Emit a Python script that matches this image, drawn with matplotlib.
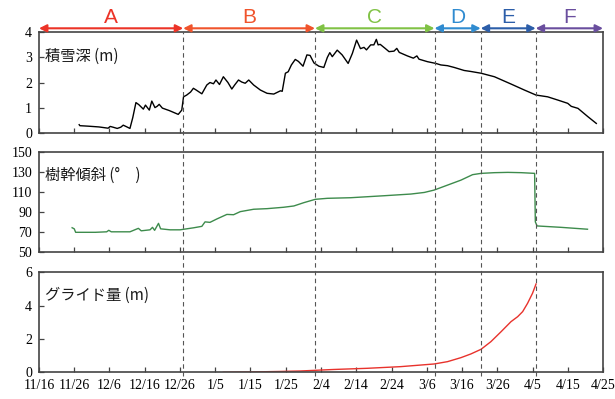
import matplotlib
matplotlib.use('Agg')
import matplotlib.pyplot as plt
import matplotlib.transforms as mtransforms
from matplotlib.lines import Line2D

# x axis: days since 11/16 (non-leap year)
tick_days = list(range(0, 161, 10))
tick_labels = ['11/16', '11/26', '12/6', '12/16', '12/26', '1/5', '1/15', '1/25',
               '2/4', '2/14', '2/24', '3/6', '3/16', '3/26', '4/5', '4/15', '4/25']

# period boundaries (days) and labels
period_bounds = [0, 40.9, 78.3, 112.2, 125.3, 140.9, 160]
period_labels = ['A', 'B', 'C', 'D', 'E', 'F']
period_colors = ['#ec3327', '#f0542c', '#80c245', '#2f8bd0', '#2c5ea9', '#6a4e9e']

# snow depth (m)
snow_day = [11.4, 11.6, 14, 17, 19.6, 20.2, 21, 22.2, 23.2, 23.9, 24.8, 25.8, 26.6, 27.5,
            28.3, 29.6, 30.2, 31.3, 32.0, 32.9, 33.5, 34.1, 35, 37, 39.5, 40.5, 41.0, 41.9,
            43.0, 43.8, 44.6, 46.2, 47.6, 48.5, 49.5, 50.2, 51.2, 52.3, 53.6, 54.7, 55.5,
            56.6, 57.5, 58.5, 59.5, 60.9, 62.8, 64.7, 66.6, 68.5, 69.0, 69.9, 70.7, 71.6,
            72.7, 73.6, 74.9, 76.0, 76.9, 78.0, 79.4, 80.8, 81.8, 82.5, 83.2, 84.6, 86,
            87.7, 88.9, 90.1, 91.2, 92.2, 92.9, 94.1, 95.0, 95.7, 96.2, 96.8, 98.2, 99.3,
            100.7, 101.5, 102.2, 104.5, 106.2, 107.2, 107.8, 110.2, 112.6, 114, 115.9,
            117.8, 120.6, 122.5, 125.4, 129.2, 133.9, 137.7, 141, 144.3, 147.2, 150, 151,
            152.9, 155.7, 158.1]
snow_depth = [0.32, 0.28, 0.26, 0.23, 0.18, 0.25, 0.22, 0.17, 0.22, 0.30, 0.24, 0.17, 0.6,
              1.2, 1.12, 0.94, 1.1, 0.9, 1.26, 1.0, 1.05, 1.13, 0.98, 0.88, 0.73, 0.9, 1.43,
              1.5, 1.62, 1.77, 1.7, 1.55, 1.9, 2.0, 1.95, 2.1, 1.92, 2.23, 2.0, 1.74, 1.9,
              2.1, 2.02, 1.97, 2.1, 1.9, 1.7, 1.57, 1.54, 1.67, 1.65, 2.37, 2.43, 2.7, 2.92,
              2.84, 2.65, 3.1, 3.08, 2.78, 2.65, 2.6, 3.0, 3.19, 3.03, 3.29, 3.1, 2.76, 3.16,
              3.69, 3.35, 3.4, 3.3, 3.5, 3.5, 3.72, 3.5, 3.52, 3.36, 3.23, 3.25, 3.36, 3.2,
              3.06, 2.97, 3.06, 2.93, 2.83, 2.76, 2.7, 2.67, 2.6, 2.48, 2.44, 2.37, 2.23,
              1.94, 1.7, 1.5, 1.43, 1.3, 1.17, 1.05, 0.97, 0.64, 0.37]

# trunk tilt (deg)
tilt_day = [9.4, 10.0, 10.4, 13, 16, 19.2, 19.8, 20.5, 23, 25.8, 28.2, 29.0, 31.5, 32.2,
            32.8, 33.9, 34.5, 37.2, 40, 41.9, 43.8, 46.2, 47.1, 48.5, 50.5, 53.3, 55.2,
            57.1, 60.9, 64.7, 69.4, 72.3, 75.1, 78.4, 81.8, 88.4, 97.9, 105.5, 109.3,
            112.1, 115.9, 119.7, 123, 125.4, 129.2, 133, 136.8, 140.6, 140.8, 141.3,
            148.1, 155.6]
tilt_deg = [74.1, 73, 69.5, 69.5, 69.5, 70, 71.5, 70, 70, 70, 73.5, 71, 72, 74.5, 71.5,
            78.5, 73, 72, 72, 73, 74, 75.5, 80, 79.5, 83, 87.5, 87.2, 90.3, 92.7, 93.3,
            94.7, 96, 99.3, 102.7, 103.7, 104.3, 106.3, 108, 109.6, 112, 117, 122, 127.5,
            128.8, 129.5, 129.8, 129.5, 128.8, 80, 75.9, 74.5, 72.6]

# glide (m)
glide_day = [52.3, 60, 68, 74.2, 83.6, 93.1, 102.6, 112.1, 115.9, 119.7, 122.5, 125.4,
             128.2, 131.1, 133.9, 135.8, 137.2, 138.6, 140, 141]
glide_m = [0, 0.02, 0.05, 0.08, 0.17, 0.24, 0.34, 0.5, 0.64, 0.88, 1.1, 1.38, 1.84, 2.44,
           3.04, 3.34, 3.64, 4.14, 4.74, 5.3]

plt.rcParams['font.family'] = ['Liberation Serif']
jp_font = ['Noto Sans CJK JP', 'DejaVu Sans']

fig = plt.figure(figsize=(6.15, 3.99), dpi=100)
left, width = 0.0634, 0.9171
ax1 = fig.add_axes([left, 0.6674, width, 0.2516])
ax2 = fig.add_axes([left, 0.3692, width, 0.2491])
ax3 = fig.add_axes([left, 0.0669, width, 0.2506])

ax1.plot(snow_day, snow_depth, color='black', lw=1.0)
ax2.plot(tilt_day, tilt_deg, color='#3d8b4c', lw=1.0)
ax3.plot(glide_day, glide_m, color='#e8322c', lw=1.0)

ax1.set_ylim(0, 4)
ax1.set_yticks([0, 1, 2, 3, 4])
ax2.set_ylim(50, 150)
ax2.set_yticks(range(50, 151, 20))
ax3.set_ylim(0, 6)
ax3.set_yticks([0, 2, 4, 6])

labels = ['積雪深 (m)', '樹幹傾斜 (°\u3000)', 'グライド量 (m)']
for ax, lab in zip([ax1, ax2, ax3], labels):
    ax.set_xlim(0, 160)
    ax.set_xticks(tick_days)
    for s in ax.spines.values():
        s.set_color('#444444')
        s.set_linewidth(1.2)
    ax.tick_params(direction='in', length=3.5, width=0.9, color='#444444',
                   labelsize=10, pad=5)
    ax.text(0.011, 0.765, lab, transform=ax.transAxes, ha='left', va='center',
            fontsize=11, family=jp_font, color='#1a1a1a')

ax1.set_xticklabels([])
ax2.set_xticklabels([])
ax3.set_xticklabels(tick_labels)
ax3.tick_params(axis='x', pad=5)

# dashed separators running through all panels
trans = mtransforms.blended_transform_factory(ax1.transData, fig.transFigure)
for d in period_bounds[1:-1]:
    fig.add_artist(Line2D([d, d], [0.057, 0.919], transform=trans, color='#555555',
                          lw=0.8, ls=(0, (4, 3))))

# period arrows
for i, lab in enumerate(period_labels):
    x0, x1 = period_bounds[i], period_bounds[i + 1]
    c = period_colors[i]
    ax1.annotate('', xy=(x0, 1.04), xytext=(x1, 1.04),
                 xycoords=('data', 'axes fraction'), textcoords=('data', 'axes fraction'),
                 arrowprops=dict(arrowstyle='<|-|>', color=c, lw=1.5,
                                 mutation_scale=11, shrinkA=0, shrinkB=0),
                 annotation_clip=False)
    ax1.text((x0 + x1) / 2, 1.15, lab, transform=ax1.get_xaxis_transform(),
             ha='center', va='center', fontsize=15, color=c,
             family='Liberation Sans')

fig.savefig('out.png', dpi=100, facecolor='white')
